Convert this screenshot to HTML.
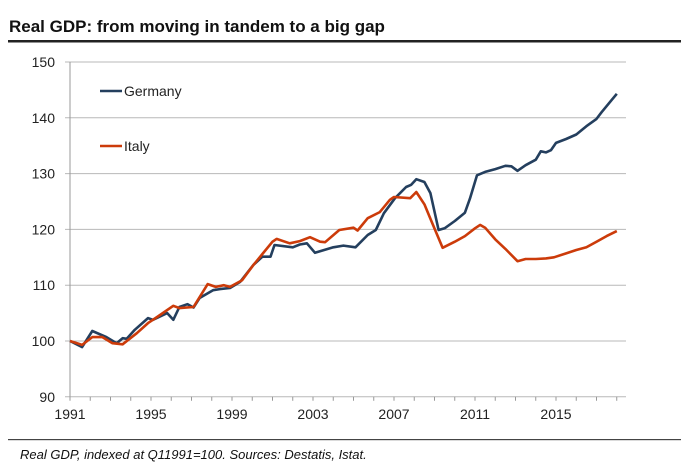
<!DOCTYPE html>
<html><head><meta charset="utf-8"><style>
html,body{margin:0;padding:0;background:#fff;}
svg text{font-family:"Liberation Sans",sans-serif;}
</style></head><body>
<svg id="chart" width="681" height="468" viewBox="0 0 681 468" xmlns="http://www.w3.org/2000/svg">
<text x="9" y="32" font-size="17" font-weight="bold" fill="#111">Real GDP: from moving in tandem to a big gap</text>
<rect x="8" y="40" width="673" height="2.5" fill="#222"/>
<g id="grid"></g><g id="axes"></g><g id="series"></g>
<g>
<line x1="100" y1="91" x2="122" y2="91" stroke="#243f5e" stroke-width="2.5"/>
<text x="124" y="96" font-size="14" fill="#222">Germany</text>
<line x1="100" y1="146" x2="122" y2="146" stroke="#cc3b0a" stroke-width="2.5"/>
<text x="124" y="151" font-size="14" fill="#222">Italy</text>
</g>
<rect x="8" y="439" width="673" height="1.2" fill="#444"/>
<text x="20" y="459" font-size="13" font-style="italic" fill="#111">Real GDP, indexed at Q11991=100. Sources: Destatis, Istat.</text>
</svg>
<script>
const yTicks=[90,100,110,120,130,140,150];
const xTickLabels=[1991,1995,1999,2003,2007,2011,2015];
const deYears=[1991,1991.6,1992.1,1992.8,1993.3,1993.6,1993.8,1994.2,1994.85,1995.1,1995.8,1996.1,1996.4,1996.8,1997.1,1997.4,1998.06,1998.4,1998.9,1999.4,2000.05,2000.5,2000.9,2001.1,2002.0,2002.35,2002.7,2003.1,2004,2004.5,2005.1,2005.7,2006.1,2006.5,2007.05,2007.6,2007.85,2008.1,2008.5,2008.8,2009.2,2009.5,2010,2010.5,2010.75,2011.1,2011.5,2012,2012.5,2012.8,2013.1,2013.5,2014,2014.25,2014.5,2014.75,2015,2015.5,2016,2016.5,2017,2017.25,2017.75,2018];
const deValues=[100,98.9,101.8,100.7,99.6,100.5,100.4,102,104.1,103.8,105,103.8,106.1,106.6,106,107.7,109.1,109.3,109.5,110.6,113.6,115.1,115.1,117.2,116.8,117.3,117.5,115.8,116.8,117.1,116.8,119,119.9,122.9,125.6,127.6,128,129,128.5,126.5,119.9,120.2,121.5,123,125.5,129.7,130.3,130.8,131.4,131.3,130.5,131.5,132.5,134,133.8,134.2,135.5,136.2,137,138.5,139.8,141,143.2,144.3];
const itYears=[1991,1991.6,1992.1,1992.6,1993.1,1993.6,1994.3,1994.85,1995.3,1996.1,1996.4,1997.1,1997.8,1998.2,1998.6,1998.9,1999.5,2000.05,2000.5,2001.0,2001.2,2001.85,2002.35,2002.85,2003.35,2003.6,2004.3,2005.0,2005.2,2005.7,2006.3,2006.8,2007.0,2007.8,2008.1,2008.5,2008.9,2009.4,2010,2010.5,2011,2011.25,2011.5,2012,2012.5,2013.1,2013.5,2014,2014.5,2014.9,2015.5,2016,2016.5,2017,2017.5,2018];
const itValues=[100,99.3,100.7,100.7,99.6,99.4,101.4,103.2,104.3,106.3,105.9,106.1,110.2,109.7,110,109.7,110.9,113.6,115.6,117.8,118.3,117.5,117.9,118.6,117.8,117.7,119.9,120.3,119.8,122,123.1,125.3,125.8,125.6,126.7,124.5,121,116.7,117.8,118.8,120.2,120.8,120.3,118.2,116.5,114.3,114.7,114.7,114.8,115,115.7,116.3,116.8,117.8,118.8,119.7];
const X0=70,PX=20.25,Y0=341,PY=5.58;
const xs=y=>X0+(y-1991)*PX, ys=v=>Y0-(v-100)*PY;
const NS="http://www.w3.org/2000/svg";
const mk=(t,a,p)=>{const e=document.createElementNS(NS,t);for(const k in a)e.setAttribute(k,a[k]);p.appendChild(e);return e;};
const grid=document.getElementById('grid'),axes=document.getElementById('axes'),ser=document.getElementById('series');
yTicks.forEach(v=>{
  const g=mk('line',{x1:65,x2:626,y1:ys(v),y2:ys(v),stroke:'#b8b8b8','stroke-width':1},grid);
  
  
  const t=mk('text',{x:55,y:ys(v)+5,'text-anchor':'end','font-size':14,fill:'#222'},axes);
  t.textContent=v;
  
  
});
const ax=mk('line',{x1:X0,x2:X0,y1:ys(150),y2:ys(90),stroke:'#999','stroke-width':1},axes);


for(let yr=1991;yr<=2018;yr++){
  const tk=mk('line',{x1:xs(yr),x2:xs(yr),y1:ys(90),y2:ys(90)+4,stroke:'#999','stroke-width':1},axes);
  
  
}
xTickLabels.forEach(yr=>{
  const t=mk('text',{x:xs(yr),y:419,'text-anchor':'middle','font-size':14,fill:'#222'},axes);
  t.textContent=yr;
  
  
});
function line(years,vals,color,name){
  const d=years.map((y,i)=>(i?'L':'M')+xs(y).toFixed(1)+','+ys(vals[i]).toFixed(1)).join('');
  const p=mk('path',{d:d,fill:'none',stroke:color,'stroke-width':2.6,'stroke-linejoin':'round'},ser);
  
  
}
line(deYears,deValues,'#243f5e','germany-line');
line(itYears,itValues,'#cc3b0a','italy-line');
</script>
</body></html>
